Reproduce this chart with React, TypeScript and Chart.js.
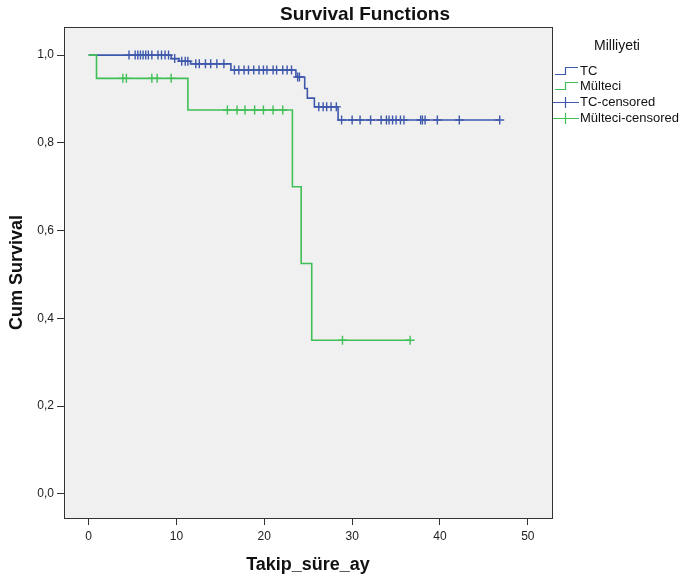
import React, { useEffect, useRef } from 'react';
import { Chart, registerables } from 'chart.js';
Chart.register(...registerables);

const chartTitle = 'Survival Functions';
const legendTitle = 'Milliyeti';
const xTitle = 'Takip_süre_ay';
const yTitle = 'Cum Survival';
const groupNames = ['TC', 'Mülteci'];

const tcEventTimes = [0, 9.4, 10.3, 11.6, 16.2, 23.6, 24.6, 24.9, 25.7, 28.4];
const tcSurvival = [1.0, 0.992, 0.986, 0.98, 0.966, 0.95, 0.924, 0.902, 0.882, 0.852];
const tcLastTime = 46.8;
const tcCensoredTimes = [
  4.6, 5.3, 5.6, 5.9, 6.2, 6.5, 6.8, 7.2, 7.9, 8.3, 8.7, 9.1,
  9.8,
  10.6, 11.0, 11.3,
  12.2, 12.6, 13.3, 13.9, 14.6, 15.4,
  16.6, 17.1, 17.7, 18.2, 18.8, 19.4, 19.9, 20.3, 21.0, 21.4, 22.1, 22.6, 23.1,
  23.8, 24.0,
  26.2, 26.7, 27.1, 27.6, 28.2,
  28.8, 30.0, 30.9, 32.1, 33.3, 33.9, 34.2, 34.6, 35.0, 35.5, 35.9, 37.8, 38.0, 38.3, 39.7, 42.2, 46.8,
];

const mulEventTimes = [0, 0.9, 11.3, 23.2, 24.2, 25.4];
const mulSurvival = [1.0, 0.947, 0.875, 0.7, 0.525, 0.35];
const mulLastTime = 36.6;
const mulCensoredTimes = [3.9, 4.3, 7.2, 7.8, 9.4, 15.8, 16.9, 17.8, 18.9, 19.9, 21.0, 22.1, 28.9, 36.6];

const xTicks = [0, 10, 20, 30, 40, 50];
const yTicks = [0, 0.2, 0.4, 0.6, 0.8, 1.0];

const BLUE = '#3e58ac';
const GREEN = '#3fbf55';
const FONT = "'Liberation Sans', Arial, sans-serif";

function stepPoints(times: number[], surv: number[], last: number) {
  const pts = times.map((t, i) => ({ x: t, y: surv[i] }));
  pts.push({ x: last, y: surv[surv.length - 1] });
  return pts;
}
function survAt(times: number[], surv: number[], t: number) {
  let s = surv[0];
  for (let i = 0; i < times.length; i++) if (times[i] <= t) s = surv[i];
  return s;
}

const bgPlugin = {
  id: 'bgBox',
  beforeDatasetsDraw(chart: any) {
    const { ctx, chartArea: a } = chart;
    ctx.save();
    ctx.fillStyle = '#f0f0f0';
    ctx.fillRect(a.left, a.top, a.right - a.left, a.bottom - a.top);
    ctx.restore();
  },
  afterDatasetsDraw(chart: any) {
    const { ctx, chartArea: a } = chart;
    ctx.save();
    ctx.strokeStyle = '#333';
    ctx.lineWidth = 1;
    ctx.strokeRect(Math.round(a.left) + 0.5, Math.round(a.top) + 0.5, Math.round(a.right - a.left), Math.round(a.bottom - a.top));
    // title
    ctx.fillStyle = '#111';
    ctx.font = `bold 19px ${FONT}`;
    ctx.textAlign = 'center';
    ctx.textBaseline = 'middle';
    ctx.fillText(chartTitle, 365, 15);
    // legend
    ctx.font = `14px ${FONT}`;
    ctx.fillText(legendTitle, 617, 46);
    ctx.textAlign = 'left';
    ctx.font = `13px ${FONT}`;
    const ys = [71, 86, 102, 118];
    chart.data.datasets.forEach((ds: any, i: number) => {
      const y = ys[i];
      ctx.strokeStyle = ds.borderColor;
      ctx.lineWidth = 1.2;
      ctx.beginPath();
      if (ds.type === 'line') {
        ctx.moveTo(555, y + 3.5);
        ctx.lineTo(565.5, y + 3.5);
        ctx.lineTo(565.5, y - 3.5);
        ctx.lineTo(578, y - 3.5);
      } else {
        ctx.moveTo(553, y + 0.5);
        ctx.lineTo(579, y + 0.5);
        ctx.moveTo(565.5, y - 5);
        ctx.lineTo(565.5, y + 6);
      }
      ctx.stroke();
      ctx.fillStyle = '#111';
      ctx.fillText(ds.label, 580, y);
    });
    ctx.restore();
  },
};

export default function App() {
  const ref = useRef<HTMLCanvasElement>(null);
  useEffect(() => {
    document.body.style.margin = '0';
    const tcCens = tcCensoredTimes.map((t) => ({ x: t, y: survAt(tcEventTimes, tcSurvival, t) }));
    const mulCens = mulCensoredTimes.map((t) => ({ x: t, y: survAt(mulEventTimes, mulSurvival, t) }));
    const chart = new Chart(ref.current!, {
      type: 'line',
      data: {
        datasets: [
          {
            type: 'line', label: groupNames[0], data: stepPoints(tcEventTimes, tcSurvival, tcLastTime),
            borderColor: BLUE, borderWidth: 1.6, stepped: 'before', pointRadius: 0, fill: false, order: 2,
          },
          {
            type: 'line', label: groupNames[1], data: stepPoints(mulEventTimes, mulSurvival, mulLastTime),
            borderColor: GREEN, borderWidth: 1.6, stepped: 'before', pointRadius: 0, fill: false, order: 1,
          },
          {
            type: 'scatter', label: groupNames[0] + '-censored', data: tcCens,
            borderColor: BLUE, backgroundColor: BLUE, pointStyle: 'cross', pointRadius: 4.5, borderWidth: 1.4, order: 0,
          },
          {
            type: 'scatter', label: groupNames[1] + '-censored', data: mulCens,
            borderColor: GREEN, backgroundColor: GREEN, pointStyle: 'cross', pointRadius: 4.5, borderWidth: 1.4, order: 0,
          },
        ] as any,
      },
      options: {
        animation: false,
        responsive: false,
        layout: { padding: { left: 0, top: 27, right: 128, bottom: 0 } },
        plugins: { legend: { display: false }, title: { display: false }, tooltip: { enabled: false } },
        scales: {
          x: {
            type: 'linear', min: -2.8, max: 52.75,
            afterBuildTicks: (s: any) => { s.ticks = xTicks.map((v) => ({ value: v })); },
            afterFit: (s: any) => { s.height = 61; },
            grid: { drawOnChartArea: false, drawTicks: true, tickLength: 7, color: '#333' },
            border: { display: true, color: '#333' },
            ticks: { color: '#222', font: { family: FONT, size: 12 }, padding: 4, maxRotation: 0 },
            title: { display: true, text: xTitle, color: '#111', font: { family: FONT, size: 18, weight: 'bold' }, padding: { top: 0, bottom: 3 } },
          },
          y: {
            type: 'linear', min: -0.055, max: 1.064,
            afterBuildTicks: (s: any) => { s.ticks = yTicks.map((v) => ({ value: v })); },
            afterFit: (s: any) => { s.width = 64; },
            grid: { drawOnChartArea: false, drawTicks: true, tickLength: 7, color: '#333' },
            border: { display: true, color: '#333' },
            ticks: { color: '#222', font: { family: FONT, size: 12 }, padding: 3, callback: (v: any) => Number(v).toFixed(1).replace('.', ',') },
            title: { display: true, text: yTitle, color: '#111', font: { family: FONT, size: 18, weight: 'bold' }, padding: { top: 6, bottom: 0 } },
          },
        },
      } as any,
      plugins: [bgPlugin],
    });
    return () => chart.destroy();
  }, []);
  return (
    <div style={{ width: 680, height: 579 }}>
      <canvas ref={ref} width={680} height={579} />
    </div>
  );
}
